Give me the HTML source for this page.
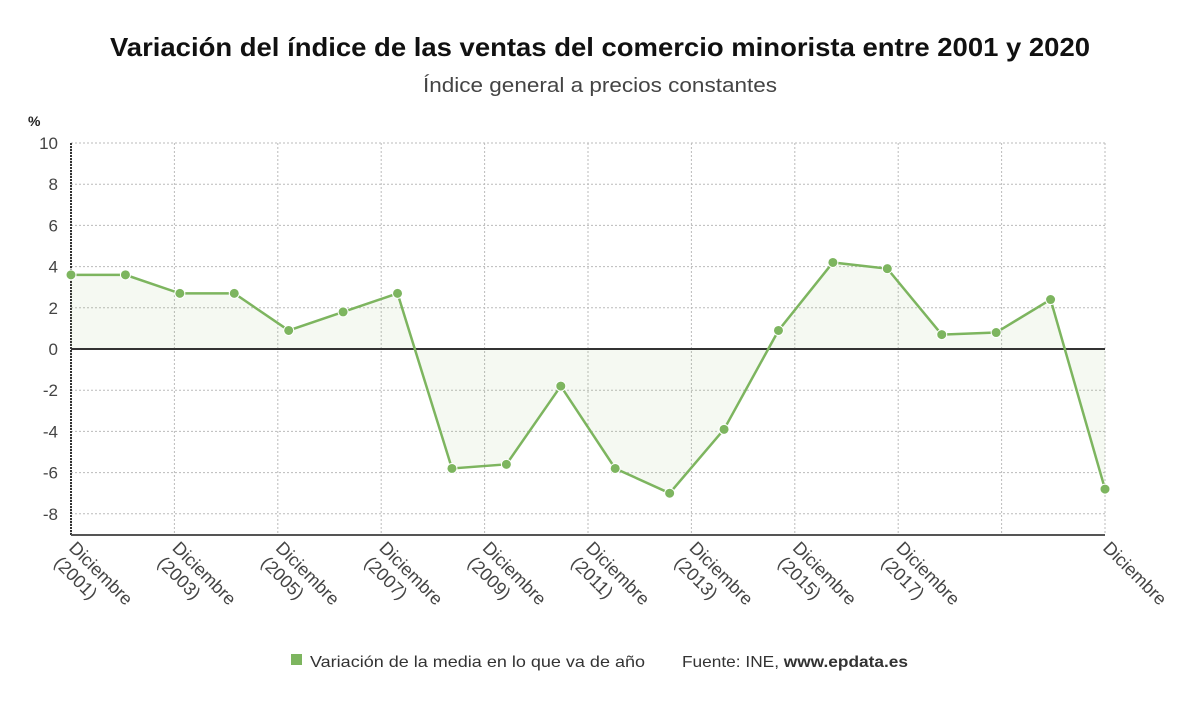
<!DOCTYPE html>
<html><head><meta charset="utf-8"><style>
body{margin:0;background:#fff;width:1200px;height:705px;overflow:hidden;font-family:"Liberation Sans",sans-serif}
</style></head><body>
<svg id="c" width="1200" height="705" style="display:block">
<text x="600" y="56" text-anchor="middle" font-size="26" font-weight="bold" fill="#111" textLength="980" lengthAdjust="spacingAndGlyphs">Variación del índice de las ventas del comercio minorista entre 2001 y 2020</text>
<text x="600" y="92" text-anchor="middle" font-size="20" fill="#444" textLength="354" lengthAdjust="spacingAndGlyphs">Índice general a precios constantes</text>
<text x="28" y="126" font-size="14" font-weight="bold" fill="#222">%</text>
<g id="grid"></g><g id="area"></g><g id="marks"></g><g id="labels"></g>
<rect x="291" y="654" width="11" height="11" fill="#7db55f"/>
<text x="310" y="667" font-size="16" fill="#333" textLength="335" lengthAdjust="spacingAndGlyphs">Variación de la media en lo que va de año</text>
<text x="682" y="667" font-size="16" fill="#333" textLength="226" lengthAdjust="spacingAndGlyphs">Fuente: INE, <tspan font-weight="bold">www.epdata.es</tspan></text>
</svg>
<script>
const years=[2001,2002,2003,2004,2005,2006,2007,2008,2009,2010,2011,2012,2013,2014,2015,2016,2017,2018,2019,2020];
const values=[3.6,3.6,2.7,2.7,0.9,1.8,2.7,-5.8,-5.6,-1.8,-5.8,-7.0,-3.9,0.9,4.2,3.9,0.7,0.8,2.4,-6.8];
const yTicks=[10,8,6,4,2,0,-2,-4,-6,-8];
const xTickLabels=["Diciembre (2001)","Diciembre (2003)","Diciembre (2005)","Diciembre (2007)","Diciembre (2009)","Diciembre (2011)","Diciembre (2013)","Diciembre (2015)","Diciembre (2017)","","Diciembre"];
const NS="http://www.w3.org/2000/svg";
const X0=71,X1=1105,Y0=349,PU=20.6,YB=535;
const xs=i=>X0+i*(X1-X0)/(years.length-1);
const ys=v=>Y0-v*PU;
function mk(t,a,p){const e=document.createElementNS(NS,t);for(const k in a)e.setAttribute(k,a[k]);p.appendChild(e);return e;}
const g=document.getElementById('grid'),ar=document.getElementById('area'),m=document.getElementById('marks'),lb=document.getElementById('labels');
yTicks.forEach(v=>{const y=ys(v);
 const l=mk('line',{x1:X0,x2:X1,y1:y,y2:y,stroke:'#bbb','stroke-dasharray':'2,2'},g);
 
 
 const t=mk('text',{x:58,y:y+6,'text-anchor':'end','font-size':17,fill:'#444'},lb);t.textContent=v;
 
 
});
xTickLabels.forEach((s,k)=>{const x=X0+k*(X1-X0)/10;
 const l=mk('line',{x1:x,x2:x,y1:ys(10),y2:YB,stroke:'#bbb','stroke-dasharray':'2,2'},g);
 
 
 if(!s)return;
 const parts=s.split(' ');
 const t=mk('text',{transform:`translate(${x-3},${YB+14}) rotate(45)`,'font-size':18,fill:'#444'},lb);
 
 
 parts.forEach((p,j)=>{const ts=mk('tspan',{x:0,dy:j?21:0},t);ts.textContent=p;});
});
mk('line',{x1:X0,x2:X0,y1:ys(10),y2:YB,stroke:'#333','stroke-width':2,'stroke-dasharray':'2,1'},g);
mk('line',{x1:X0,x2:X1,y1:YB,y2:YB,stroke:'#555','stroke-width':2},g);
let d=`M${xs(0)},${Y0}`;values.forEach((v,i)=>d+=`L${xs(i)},${ys(v)}`);d+=`L${xs(values.length-1)},${Y0}Z`;
const a=mk('path',{d:d,fill:'#7db55f','fill-opacity':0.08},ar);


const z=mk('line',{x1:X0,x2:X1,y1:Y0,y2:Y0,stroke:'#333','stroke-width':2},ar);


const pl=mk('polyline',{points:values.map((v,i)=>xs(i)+','+ys(v)).join(' '),fill:'none',stroke:'#7db55f','stroke-width':2.5},m);


values.forEach((v,i)=>{const c=mk('circle',{cx:xs(i),cy:ys(v),r:5,fill:'#7db55f',stroke:'#fff','stroke-width':1},m);
 
 
});
</script>
</body></html>
